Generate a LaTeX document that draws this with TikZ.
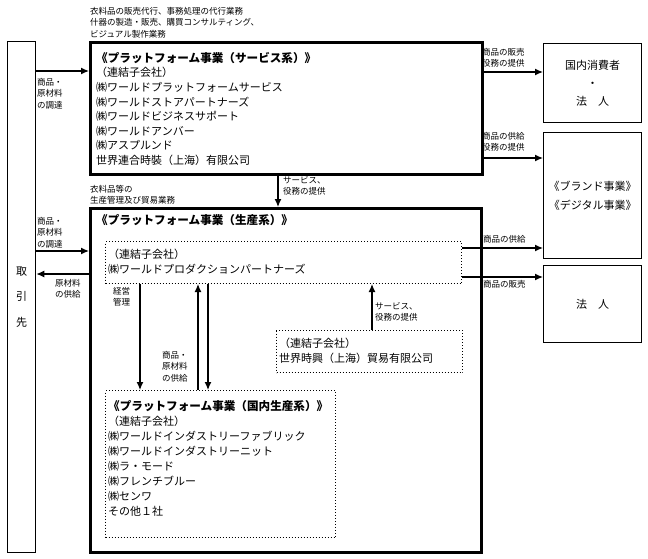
\documentclass[tikz,border=0pt]{standalone}
\usepackage{fontspec}
\newfontfamily\jpfont{Noto Sans CJK JP}
\usetikzlibrary{arrows.meta}

\newcommand{\headline}[1]{{\fontsize{11.6}{14.6}\selectfont\bfseries #1}}

\begin{document}
\begin{tikzpicture}
		[x=1pt,y=-1pt,
		font=\jpfont,
		thickbox/.style={draw,line width=2.6pt,inner sep=0pt,anchor=north west},
		thinbox/.style={draw,line width=1.3pt,inner sep=0pt,anchor=north west,align=center},
		dotbox/.style={draw,line width=1pt,dotted,inner sep=0pt,anchor=north west},
		body/.style={anchor=north west,inner sep=0pt,align=left,
			font=\jpfont\fontsize{11}{14.6}\selectfont},
		small/.style={anchor=north west,inner sep=0pt,align=left,
			font=\jpfont\fontsize{8.5}{11.6}\selectfont},
		arr/.style={line width=1.3pt,-{Latex[length=8pt,width=7pt]}}
	]
		\useasboundingbox (0,0) rectangle (648,558);

		\node[thinbox,minimum width=28,minimum height=511,
			font=\jpfont\fontsize{11}{25.5}\selectfont] (torihiki) at (7,41) {取\\引\\先};

		\node[thickbox,minimum width=392,minimum height=132] (svc) at (89,41) {};
		\node[thickbox,minimum width=391,minimum height=344] (prod) at (89,207) {};
		\node[dotbox,minimum width=356,minimum height=42] (wpp) at (105,241) {};
		\node[dotbox,minimum width=186,minimum height=42] (sekai) at (276,330) {};
		\node[dotbox,minimum width=230,minimum height=147] (domestic) at (105,390) {};

		\node[thinbox,minimum width=98,minimum height=79,
			font=\jpfont\fontsize{11}{18}\selectfont] (consumer) at (543,43) {国内消費者\\・\\法　人};
		\node[thinbox,minimum width=98,minimum height=126,
			font=\jpfont\fontsize{11}{19}\selectfont] (brand) at (543,132) {《ブランド事業》\\《デジタル事業》};
		\node[thinbox,minimum width=98,minimum height=77,
			font=\jpfont\fontsize{11}{14}\selectfont] (houjin) at (543,265) {法　人};

		\node[body] (svctext) at (96,52) {\headline{《プラットフォーム事業（サービス系）》}\\
			（連結子会社）\\
			㈱ワールドプラットフォームサービス\\
			㈱ワールドストアパートナーズ\\
			㈱ワールドビジネスサポート\\
			㈱ワールドアンバー\\
			㈱アスプルンド\\
			世界連合時裝（上海）有限公司};
		\node[body] (prodtitle) at (96,214) {\headline{《プラットフォーム事業（生産系）》}};
		\node[body] (wpptext) at (108,249) {（連結子会社）\\
			㈱ワールドプロダクションパートナーズ};
		\node[body] (sekaitext) at (279,338) {（連結子会社）\\
			世界時興（上海）貿易有限公司};
		\node[body,font=\jpfont\fontsize{11}{15.1}\selectfont] (domtext) at (108,400) {\headline{《プラットフォーム事業（国内生産系）》}\\
			（連結子会社）\\
			㈱ワールドインダストリーファブリック\\
			㈱ワールドインダストリーニット\\
			㈱ラ・モード\\
			㈱フレンチブルー\\
			㈱センワ\\
			その他１社};

		\node[small] (svcwork) at (90,7) {衣料品の販売代行、事務処理の代行業務\\
			什器の製造・販売、購買コンサルティング、\\
			ビジュアル製作業務};
		\node[small] (prodwork) at (90,185) {衣料品等の\\生産管理及び貿易業務};

		\draw[arr] (torihiki.east |- 0,71) -- (svc.west |- 0,71);
		\node[small] (buy1) at (37,78) {商品・\\原材料\\の調達};
		\draw[arr] (torihiki.east |- 0,251) -- (prod.west |- 0,251);
		\node[small] (buy2) at (37,217) {商品・\\原材料\\の調達};
		\draw[arr] (prod.west |- 0,274) -- (torihiki.east |- 0,274);
		\node[small] (supply) at (55,279) {原材料\\の供給};

		\draw[arr] (svc.east |- 0,72) -- (consumer.west |- 0,72);
		\node[small] (sell1) at (482,48) {商品の販売\\役務の提供};
		\draw[arr] (svc.east |- 0,158) -- (brand.west |- 0,158);
		\node[small] (give1) at (482,132) {商品の供給\\役務の提供};
		\draw[arr] (svc.south -| 278,0) -- (prod.north -| 278,0);
		\node[small] (serv1) at (283,176) {サービス、\\役務の提供};

		\draw[arr] (wpp.east |- 0,248) -- (brand.west |- 0,248);
		\node[small] (give2) at (483,235) {商品の供給};
		\draw[arr] (wpp.east |- 0,277) -- (houjin.west |- 0,277);
		\node[small] (sell2) at (483,280) {商品の販売};

		\draw[arr] (wpp.south -| 140,0) -- (domestic.north -| 140,0);
		\node[small] (mgmt) at (113,287) {経営\\管理};
		\draw[arr] (domestic.north -| 198,0) -- (wpp.south -| 198,0);
		\draw[arr] (wpp.south -| 208,0) -- (domestic.north -| 208,0);
		\node[small] (supply2) at (162,351) {商品・\\原材料\\の供給};

		\draw[arr] (sekai.north -| 372,0) -- (wpp.south -| 372,0);
		\node[small] (serv2) at (375,302) {サービス、\\役務の提供};
	\end{tikzpicture}
\end{document}
